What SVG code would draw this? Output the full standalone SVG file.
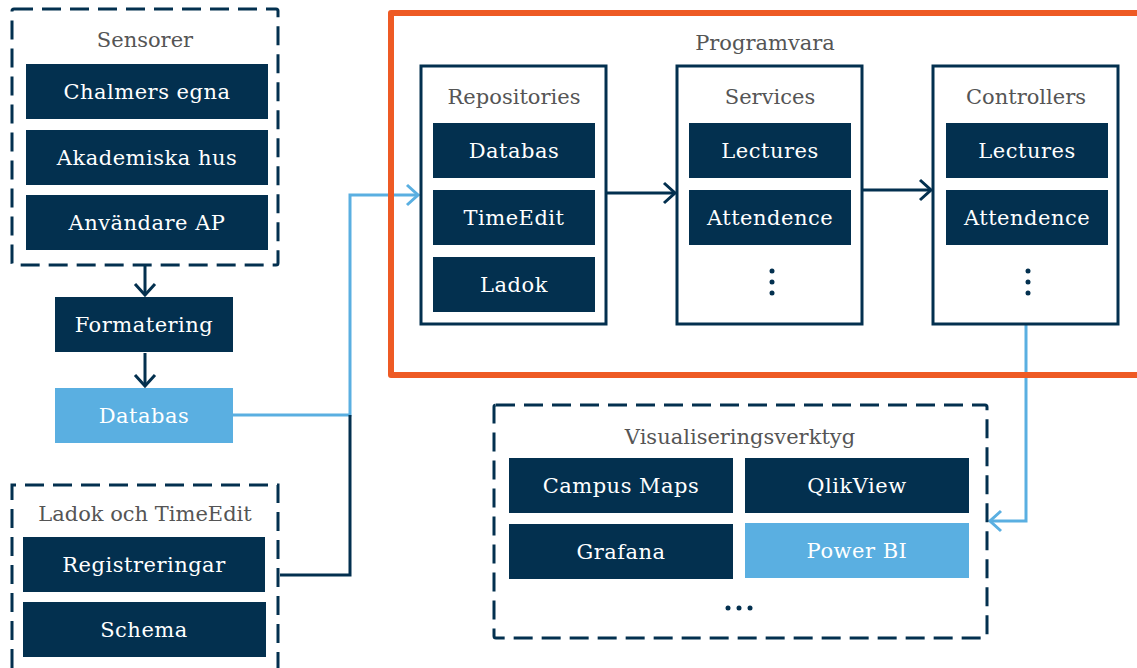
<svg xmlns="http://www.w3.org/2000/svg" width="1137" height="668" viewBox="0 0 1137 668">
<style>
.dash{fill:none;stroke:#03304F;stroke-width:3;stroke-dasharray:19 9}
.frame{fill:#fff;stroke:#03304F;stroke-width:3}
.blk{fill:#03304F}
.lb{fill:#5AAFE1}
.t{font-family:'DejaVu Serif','Liberation Serif',serif;font-size:21px;fill:#fff;text-anchor:middle;letter-spacing:0.5px}
.h{font-family:'DejaVu Serif','Liberation Serif',serif;font-size:21px;fill:#555;text-anchor:middle}
.cn{fill:none;stroke:#03304F;stroke-width:3}
.cl{fill:none;stroke:#5AAFE1;stroke-width:3}
</style>
<defs>
<marker id="ad" markerUnits="userSpaceOnUse" viewBox="-14 -12 16 24" markerWidth="16" markerHeight="24" refX="0" refY="0" orient="auto">
<path d="M-11,-10 L0,0 L-11,10" fill="none" stroke="#03304F" stroke-width="3"/>
</marker>
<marker id="al" markerUnits="userSpaceOnUse" viewBox="-14 -12 16 24" markerWidth="16" markerHeight="24" refX="0" refY="0" orient="auto">
<path d="M-11,-10 L0,0 L-11,10" fill="none" stroke="#5AAFE1" stroke-width="3"/>
</marker>
</defs>

<g id="connectors">
<path class="cn" d="M145,266 L145,295" marker-end="url(#ad)"/>
<path class="cn" d="M145,353 L145,386" marker-end="url(#ad)"/>
<path class="cl" d="M233,415 L350,415 L350,195 L418,195" marker-end="url(#al)"/>
<path class="cn" d="M350,415 L350,575 L280,575"/>
<path class="cn" d="M607,193 L675,193" marker-end="url(#ad)"/>
<path class="cn" d="M863,190 L931,190" marker-end="url(#ad)"/>
<path class="cl" d="M1026,325 L1026,521 L990,521" marker-end="url(#al)"/>
</g>

<g id="sensorer">
<rect class="dash" x="12" y="9" width="266" height="256" rx="2"/>
<text class="h" x="145" y="47">Sensorer</text>
<rect class="blk" x="26" y="64" width="242" height="55"/>
<text class="t" x="147" y="99">Chalmers egna</text>
<rect class="blk" x="26" y="130" width="242" height="55"/>
<text class="t" x="147" y="165">Akademiska hus</text>
<rect class="blk" x="26" y="195" width="242" height="55"/>
<text class="t" x="147" y="230">Användare AP</text>
</g>

<g id="formatering">
<rect class="blk" x="55" y="297" width="178" height="55"/>
<text class="t" x="144" y="332">Formatering</text>
</g>

<g id="databas">
<rect class="lb" x="55" y="388" width="178" height="55"/>
<text class="t" x="144" y="423">Databas</text>
</g>

<g id="ladok">
<path class="dash" d="M12,668 L12,485 L278,485 L278,668"/>
<text class="h" x="145" y="521">Ladok och TimeEdit</text>
<rect class="blk" x="23" y="537" width="242" height="55"/>
<text class="t" x="144" y="572">Registreringar</text>
<rect class="blk" x="23" y="602" width="243" height="55"/>
<text class="t" x="144" y="637">Schema</text>
</g>

<g id="programvara">
<path d="M1140,13 L391,13 L391,375 L1140,375" fill="none" stroke="#EE5A24" stroke-width="6" stroke-linejoin="round"/>
<text class="h" x="765" y="50">Programvara</text>
</g>

<g id="repositories">
<rect class="frame" x="421" y="66" width="185" height="258"/>
<text class="h" x="514" y="104">Repositories</text>
<rect class="blk" x="433" y="123" width="162" height="55"/>
<text class="t" x="514" y="158">Databas</text>
<rect class="blk" x="433" y="190" width="162" height="55"/>
<text class="t" x="514" y="225">TimeEdit</text>
<rect class="blk" x="433" y="257" width="162" height="55"/>
<text class="t" x="514" y="292">Ladok</text>
</g>

<g id="services">
<rect class="frame" x="677" y="66" width="185" height="258"/>
<text class="h" x="770" y="104">Services</text>
<rect class="blk" x="689" y="123" width="162" height="55"/>
<text class="t" x="770" y="158">Lectures</text>
<rect class="blk" x="689" y="190" width="162" height="55"/>
<text class="t" x="770" y="225">Attendence</text>
<circle class="blk" cx="772" cy="271" r="2.5"/>
<circle class="blk" cx="772" cy="282" r="2.5"/>
<circle class="blk" cx="772" cy="293" r="2.5"/>
</g>

<g id="controllers">
<rect class="frame" x="933" y="66" width="185" height="258"/>
<text class="h" x="1026" y="104">Controllers</text>
<rect class="blk" x="946" y="123" width="162" height="55"/>
<text class="t" x="1027" y="158">Lectures</text>
<rect class="blk" x="946" y="190" width="162" height="55"/>
<text class="t" x="1027" y="225">Attendence</text>
<circle class="blk" cx="1028" cy="271" r="2.5"/>
<circle class="blk" cx="1028" cy="282" r="2.5"/>
<circle class="blk" cx="1028" cy="293" r="2.5"/>
</g>

<g id="visualisering">
<rect class="dash" x="494" y="405" width="493" height="233" rx="2"/>
<text class="h" x="740" y="444">Visualiseringsverktyg</text>
<rect class="blk" x="509" y="458" width="224" height="55"/>
<text class="t" x="621" y="493">Campus Maps</text>
<rect class="blk" x="745" y="458" width="224" height="55"/>
<text class="t" x="857" y="493">QlikView</text>
<rect class="blk" x="509" y="524" width="224" height="55"/>
<text class="t" x="621" y="559">Grafana</text>
<rect class="lb" x="745" y="523" width="224" height="55"/>
<text class="t" x="857" y="558">Power BI</text>
<circle class="blk" cx="728" cy="608" r="2.5"/>
<circle class="blk" cx="739" cy="608" r="2.5"/>
<circle class="blk" cx="750" cy="608" r="2.5"/>
</g>
</svg>
